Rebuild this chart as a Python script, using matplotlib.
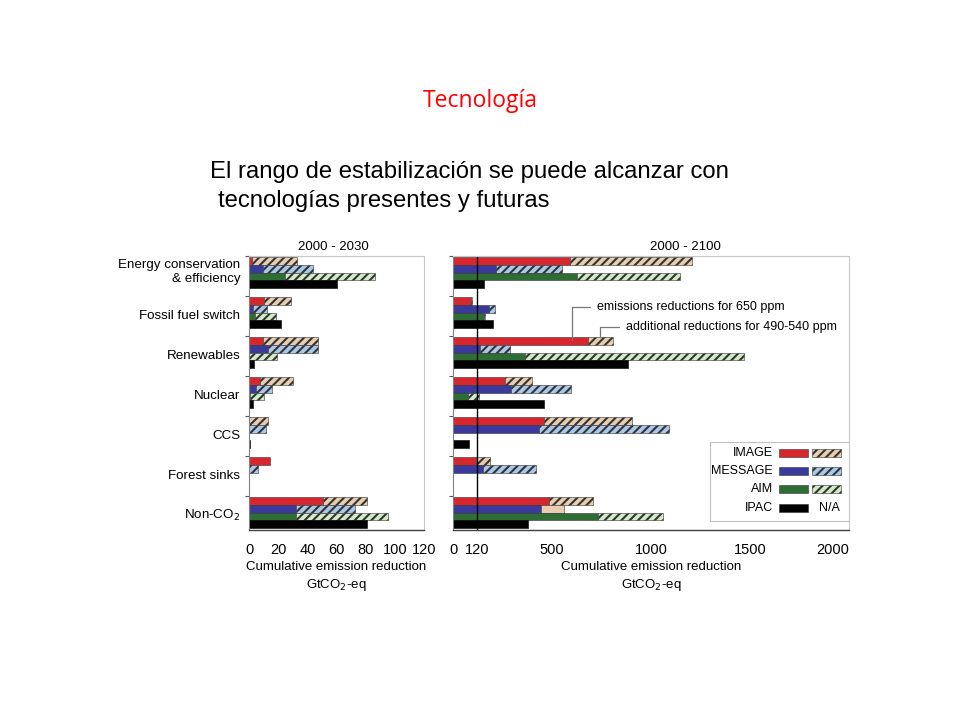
import matplotlib
matplotlib.use("Agg")
import matplotlib.pyplot as plt
from matplotlib.patches import Rectangle

# categories (top to bottom)
categories = ["Energy conservation\n& efficiency", "Fossil fuel switch", "Renewables",
              "Nuclear", "CCS", "Forest sinks", "Non-CO$_2$"]

# 2000 - 2030: reductions for 650 ppm (solid) and total incl. 490-540 ppm (hatched end)
image_650_2030 = [2, 10.5, 9.5, 7.5, 0, 14.5, 50.5]
image_tot_2030 = [33, 29, 47, 30.5, 13, 14.5, 81]
message_650_2030 = [9.5, 2.5, 13, 5, 0, 0, 32.5]
message_tot_2030 = [44, 12, 47.5, 16, 11.5, 6, 72.5]
aim_650_2030 = [25, 4, 0, 1, 0, 0, 32]
aim_tot_2030 = [86.5, 18.5, 19, 10, 0, 0, 95.5]
ipac_2030 = [60, 22, 3.5, 2.5, 0.8, 0, 81]

# 2000 - 2100
image_650_2100 = [591, 89, 684, 265, 459, 118, 484]
image_tot_2100 = [1207, 96, 810, 400, 906, 186, 709]
message_650_2100 = [219, 181, 138, 292, 434, 152, 444]
message_tot_2100 = [552, 214, 290, 594, 1090, 419, 559]
aim_650_2100 = [624, 157, 363, 76, 0, 0, 732]
aim_tot_2100 = [1144, 164, 1468, 130, 0, 0, 1060]
ipac_2100 = [157, 203, 886, 459, 79, 0, 381]

models = ["IMAGE", "MESSAGE", "AIM", "IPAC"]
solid_colors = ["#d7262e", "#3a3a9c", "#2e6e34", "#000000"]
hatch_colors = ["#e8cdb0", "#aac8ea", "#d4ebc8", "#000000"]

plt.rcParams['font.family'] = ['Liberation Sans', 'DejaVu Sans']
plt.rcParams['hatch.linewidth'] = 1.5

fig = plt.figure(figsize=(9.6, 7.2), dpi=100)
fig.text(0.5, 1 - 101 / 720, "Tecnología", color="#ff0000", fontsize=16.5,
         family=["Open Sans", "DejaVu Sans"], ha="center", va="center")
fig.text(210 / 960, 1 - 172 / 720, "El rango de estabilización se puede alcanzar con",
         fontsize=17.2, ha="left", va="center")
fig.text(218 / 960, 1 - 201 / 720, "tecnologías presentes y futuras",
         fontsize=17.2, ha="left", va="center")

ax1 = fig.add_axes([249 / 960, 1 - 530 / 720, 175 / 960, 274 / 720])
ax2 = fig.add_axes([453 / 960, 1 - 530 / 720, 396 / 960, 274 / 720])

bar_h = 0.195
hatch_pat = "////"


def draw_panel(ax, solids, totals, ipac, special=None):
    for i in range(len(categories)):
        for j in range(4):
            y = i + j * bar_h
            if j == 3:
                if ipac[i] > 0:
                    ax.barh(y, ipac[i], height=bar_h, align="edge", color="black",
                            edgecolor="black", linewidth=0.4)
                continue
            s = solids[j][i]
            t = totals[j][i]
            if s > 0:
                ax.barh(y, s, height=bar_h, align="edge", color=solid_colors[j],
                        edgecolor="#333333", linewidth=0.4)
            if t > s:
                hatch = hatch_pat
                if special is not None and (i, j) == special:
                    hatch = ""
                ax.barh(y, t - s, left=s, height=bar_h, align="edge",
                        facecolor=hatch_colors[j if hatch else 0], edgecolor="#333333",
                        linewidth=0.4, hatch=hatch)
    ax.set_ylim(6.825, -0.025)
    ax.set_yticks([i - 0.02 for i in range(len(categories))])
    ax.set_yticklabels([])
    ax.tick_params(axis="y", length=3, width=0.8, color="#555555")
    ax.tick_params(axis="x", length=0, labelsize=10.5, pad=9)
    for side in ["top", "right"]:
        ax.spines[side].set_color("#c8c8c8")
        ax.spines[side].set_linewidth(0.8)
    ax.spines["left"].set_color("#808080")
    ax.spines["bottom"].set_color("#404040")
    ax.spines["bottom"].set_linewidth(1.0)
    ax.set_xlabel("Cumulative emission reduction\nGtCO$_2$-eq", fontsize=9.5,
                  labelpad=3, linespacing=1.35)


draw_panel(ax1, [image_650_2030, message_650_2030, aim_650_2030],
           [image_tot_2030, message_tot_2030, aim_tot_2030], ipac_2030)
ax1.set_xlim(0, 120)
ax1.set_xticks([0, 20, 40, 60, 80, 100, 120])
ax1.text(0.48, 1.01, "2000 - 2030", transform=ax1.transAxes, ha="center",
         va="bottom", fontsize=9.5)
for i, c in enumerate(categories):
    ax1.text(-0.05, i + (0.37 if i == 0 else 0.47), c, transform=ax1.get_yaxis_transform(),
             ha="right", va="center", fontsize=9.6, linespacing=1.25)

draw_panel(ax2, [image_650_2100, message_650_2100, aim_650_2100],
           [image_tot_2100, message_tot_2100, aim_tot_2100], ipac_2100, special=(6, 1))
ax2.set_xlim(0, 2000)
ax2.set_xticks([0, 120, 500, 1000, 1500, 2000])
ax2.get_xticklabels()[-1].set_horizontalalignment("right")
ax2.axvline(120, color="black", linewidth=1.0)
ax2.text(0.586, 1.01, "2000 - 2100", transform=ax2.transAxes, ha="center",
         va="bottom", fontsize=9.5)

ax2.annotate("emissions reductions for 650 ppm", xy=(600, 2.07), xytext=(728, 1.25),
             fontsize=9, va="center", ha="left",
             arrowprops=dict(arrowstyle="-", color="#777777", lw=0.9, relpos=(0, 0.5),
                             shrinkA=3, shrinkB=0,
                             connectionstyle="angle,angleA=0,angleB=90,rad=0"))
ax2.annotate("additional reductions for 490-540 ppm", xy=(740, 2.0), xytext=(873, 1.75),
             fontsize=9, va="center", ha="left",
             arrowprops=dict(arrowstyle="-", color="#777777", lw=0.9, relpos=(0, 0.5),
                             shrinkA=3, shrinkB=0,
                             connectionstyle="angle,angleA=0,angleB=90,rad=0"))

# legend drawn by hand (two swatches per model)
ax2.add_patch(Rectangle((0.649, 0.033), 0.351, 0.288, transform=ax2.transAxes,
                        facecolor="white", edgecolor="#c0c0c0", linewidth=0.8, zorder=5))
rows_y = [0.281, 0.215, 0.150, 0.080]
for j, m in enumerate(models):
    yy = rows_y[j]
    ax2.text(0.808, yy, m, transform=ax2.transAxes, ha="right", va="center",
             fontsize=9, zorder=6)
    ax2.add_patch(Rectangle((0.823, yy - 0.0135), 0.074, 0.027, transform=ax2.transAxes,
                            facecolor=solid_colors[j], edgecolor="#333333",
                            linewidth=0.4, zorder=6))
    if j < 3:
        ax2.add_patch(Rectangle((0.906, yy - 0.0135), 0.073, 0.027,
                                transform=ax2.transAxes, facecolor=hatch_colors[j],
                                edgecolor="#333333", linewidth=0.4, hatch=hatch_pat,
                                zorder=6))
    else:
        ax2.text(0.951, yy, "N/A", transform=ax2.transAxes, ha="center", va="center",
                 fontsize=9, zorder=6)

fig.savefig("out.png", dpi=100)
